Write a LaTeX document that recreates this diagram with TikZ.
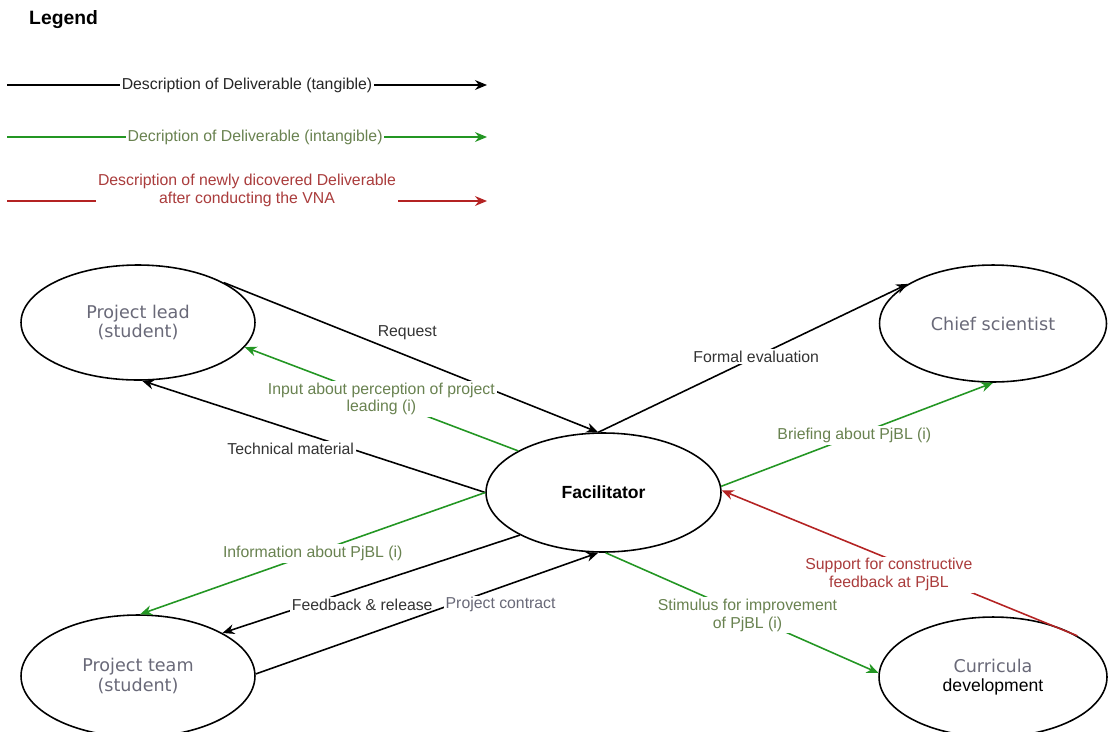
\documentclass[tikz,border=0pt]{standalone}
\usepackage{fontspec}
\setmainfont{Liberation Sans}
\newfontfamily\dejavu{DejaVu Sans}
\usetikzlibrary{arrows.meta, shapes.geometric}

\definecolor{intLine}{RGB}{35,150,35}
\definecolor{intText}{RGB}{105,130,80}
\definecolor{newLine}{RGB}{180,35,35}
\definecolor{newText}{RGB}{170,60,60}
\definecolor{roleText}{RGB}{105,105,120}

\tikzset{
  role/.style={ellipse, draw, line width=0.9pt, inner sep=0pt, align=center,
    font=\dejavu\fontsize{10}{11}\selectfont, text=roleText},
  lbl/.style={fill=white, inner sep=1pt, align=center, text=black!80,
    font=\fontsize{9}{10}\selectfont},
  tangible/.style={->, line width=0.9pt, black},
  intangible/.style={->, line width=0.9pt, intLine},
  newdel/.style={->, line width=0.9pt, newLine},
}

\begin{document}
\begin{tikzpicture}[x=0.02cm, y=-0.02cm, >={Stealth[length=6.8pt, width=5.6pt, inset=2.2pt]}]
    \useasboundingbox (0,0) rectangle (1108,731);

    % Chú thích
    \node at (23,20) [anchor=west, font=\bfseries\fontsize{11}{13}\selectfont] (legend) {Legend};
    \coordinate (l1a) at (7,85);  \coordinate (l1b) at (487,85);
    \coordinate (l2a) at (7,137); \coordinate (l2b) at (487,137);
    \coordinate (l3a) at (7,201); \coordinate (l3b) at (487,201);
    \draw[tangible] (l1a) -- node[lbl, text=black!85] {Description of Deliverable (tangible)} (l1b);
    \draw[intangible] (l2a) -- node[lbl, pos=0.517, text=intText] {Decription of Deliverable (intangible)} (l2b);
    \draw[newdel] (l3a) -- node[lbl, yshift=6pt, text=newText] {Description of newly dicovered Deliverable\\after conducting the VNA} (l3b);

    % Các bên liên quan
    \node at (603.5,492.5) [role, minimum width=4.7cm, minimum height=2.38cm, text=black,
        font=\bfseries\fontsize{10}{12}\selectfont] (fac) {Facilitator};
    \node at (138,322.5) [role, minimum width=4.68cm, minimum height=2.3cm] (lead) {Project lead\\(student)};
    \node at (993,323.5) [role, minimum width=4.54cm, minimum height=2.34cm] (chief) {Chief scientist};
    \node at (138,676) [role, minimum width=4.68cm, minimum height=2.44cm] (team) {Project team\\(student)};
    \node at (993,677) [role, minimum width=4.56cm, minimum height=2.4cm] (cur)
        {Curricula\\{\rmfamily\color{black}development}};

    % Luồng giao nhận
    \draw[tangible] (lead.25) -- node[lbl, pos=0.49, yshift=13pt, fill=none] {Request} (fac.95);
    \draw[tangible] (fac.95) -- node[lbl, pos=0.51] {Formal evaluation} (chief.155);
    \draw[intangible] (fac.154) -- node[lbl, pos=0.5, text=intText] {Input about perception of project\\leading (i)} (lead.-13);
    \draw[tangible] (fac.west) -- node[lbl, pos=0.567, yshift=-11pt] {Technical material} (lead.-86);
    \draw[intangible] (fac.west) -- node[lbl, pos=0.5, text=intText] {Information about PjBL (i)} (team.88);
    \draw[tangible] (fac.207) -- node[lbl, pos=0.53, yshift=-10pt] {Feedback \& release} (team.27);
    \draw[tangible] (team.1) -- node[lbl, pos=0.715, yshift=-10pt, text=roleText] {Project contract} (fac.265);
    \draw[intangible] (fac.3) -- node[lbl, pos=0.49, text=intText] {Briefing about PjBL (i)} (chief.south);
    \draw[newdel] (cur.26) -- node[lbl, pos=0.53, yshift=-9pt, text=newText] {Support for constructive\\feedback at PjBL} (fac.1);
    \draw[intangible] (fac.272) -- node[lbl, pos=0.52, text=intText] {Stimulus for improvement\\of PjBL (i)} (cur.178);

\end{tikzpicture}
\end{document}
